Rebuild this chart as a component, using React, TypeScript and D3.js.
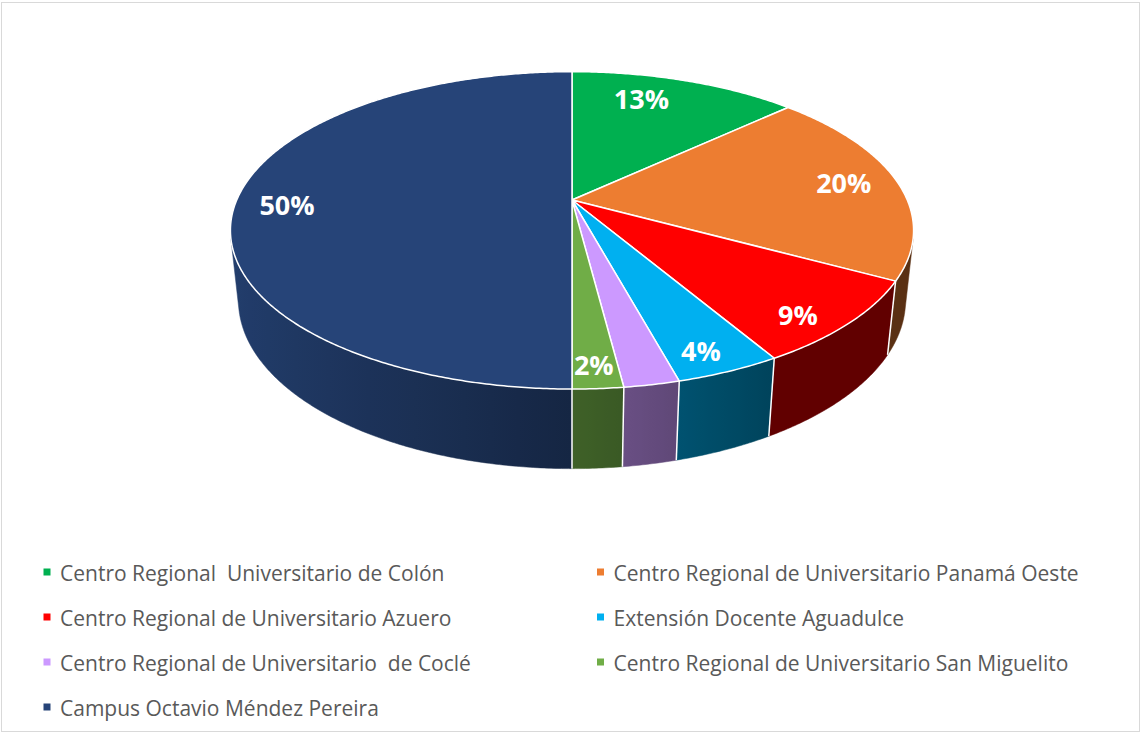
import React from 'react';
import * as d3 from 'd3';

const categories = [
  'Centro Regional  Universitario de Colón',
  'Centro Regional de Universitario Panamá Oeste',
  'Centro Regional de Universitario Azuero',
  'Extensión Docente Aguadulce',
  'Centro Regional de Universitario  de Coclé',
  'Centro Regional de Universitario San Miguelito',
  'Campus Octavio Méndez Pereira',
];
const values = [13, 20, 8.6, 4.2, 2.2, 2, 50];
const colors = ['#00B050', '#ED7D31', '#FF0000', '#00B0F0', '#CC99FF', '#70AD47', '#264478'];
const showLabel = [true, true, true, true, false, true, true];

const W = 1142;
const H = 734;
const CX = 572;
const CY = 200;
const FOCAL = 1560;
const DIST = 4.653;
const ELEV = Math.asin(0.456);
const THICK = 0.2366;
const LABEL_R = 0.85;
const LABEL_DY = 4;

const sE = Math.sin(ELEV);
const cE = Math.cos(ELEV);

function project(r: number, theta: number, y: number): [number, number] {
  const X = r * Math.sin(theta);
  const Z = -r * Math.cos(theta);
  const up = -Z * sE + y * cE;
  const depth = DIST - Z * cE - y * sE;
  return [CX + (FOCAL * X) / depth, CY - (FOCAL * up) / depth];
}

function shadeFactor(theta: number) {
  return Math.max(0.38, 0.56 - 0.36 * Math.sin(theta));
}

function shade(col: string, theta: number) {
  const c = d3.rgb(col);
  const f = shadeFactor(theta);
  return d3.rgb(c.r * f, c.g * f, c.b * f).formatHex();
}

function arcPoints(a0: number, a1: number, y: number) {
  const n = Math.max(2, Math.ceil(((a1 - a0) * 180) / Math.PI / 0.5));
  return d3.range(n + 1).map((i) => project(1, a0 + ((a1 - a0) * i) / n, y));
}

// 2D screen angle (clockwise from up) of the projected rim point, seen from the projected centre
function screenAngle(theta: number) {
  const [x, y] = project(1, theta, 0);
  const [ax, ay] = project(0, 0, 0);
  let a = Math.atan2(x - ax, -(y - ay));
  if (a < 0) a += Math.PI * 2;
  if (theta >= Math.PI * 2 - 1e-9 && a < Math.PI) a += Math.PI * 2;
  return a;
}

function thetaForScreenAngle(psi: number) {
  let lo = 0;
  let hi = Math.PI * 2;
  for (let k = 0; k < 60; k++) {
    const mid = (lo + hi) / 2;
    if (screenAngle(mid) < psi) lo = mid;
    else hi = mid;
  }
  return (lo + hi) / 2;
}

const line = d3.line<[number, number]>();

export default function App() {
  const arcs = d3
    .pie<number>()
    .sort(null)
    .startAngle(0)
    .endAngle(Math.PI * 2)(values);

  const kVis = Math.acos(-1 / (DIST * cE));
  const visLo = kVis;
  const visHi = Math.PI * 2 - kVis;
  const apex = project(0, 0, 0);

  const sides: any[] = [];
  const edges: any[] = [];
  arcs.forEach((a, i) => {
    const b0 = Math.max(a.startAngle, visLo);
    const b1 = Math.min(a.endAngle, visHi);
    if (b1 > b0) {
      const top = arcPoints(b0, b1, 0);
      const bot = arcPoints(b0, b1, -THICK).reverse();
      const d = line([...top, ...bot]) + 'Z';
      const x0 = project(1, b0, 0)[0];
      const x1 = project(1, b1, 0)[0];
      const stops = d3.range(11).map((k) => {
        const t = b0 + ((b1 - b0) * k) / 10;
        const x = project(1, t, 0)[0];
        return { off: x1 === x0 ? 0 : (x - x0) / (x1 - x0), color: shade(colors[i], t) };
      });
      sides.push({ i, d, x0, x1, stops });
    }
    if (a.startAngle > visLo && a.startAngle < visHi) {
      const p = project(1, a.startAngle, 0);
      const q = project(1, a.startAngle, -THICK);
      edges.push({ key: `${i}`, p, q });
    }
  });

  const tops = arcs.map((a, i) => {
    const pts = [apex, ...arcPoints(a.startAngle, a.endAngle, 0)];
    return { i, d: line(pts) + 'Z' };
  });

  const labels = arcs.map((a, i) => {
    const psi = (screenAngle(a.startAngle) + screenAngle(a.endAngle)) / 2;
    const th = thetaForScreenAngle(psi);
    const rim = project(1, th, 0);
    return {
      i,
      x: apex[0] + LABEL_R * (rim[0] - apex[0]),
      y: apex[1] + LABEL_R * (rim[1] - apex[1]) + LABEL_DY,
      text: `${Math.round(values[i])}%`,
    };
  });

  const legendX = d3.scaleOrdinal<number, number>().domain([0, 1]).range([43.5, 597]);
  const legendY = d3.scaleLinear().domain([0, 1]).range([572, 617]);

  return (
    <svg
      width={W}
      height={H}
      style={{ position: 'absolute', left: 0, top: 0, display: 'block' }}
      fontFamily="'Open Sans', Lato, sans-serif"
    >
      <defs>
        {sides.map((s) => (
          <linearGradient
            key={s.i}
            id={`side-${s.i}`}
            gradientUnits="userSpaceOnUse"
            x1={s.x0}
            y1={0}
            x2={s.x1 === s.x0 ? s.x0 + 1 : s.x1}
            y2={0}
          >
            {s.stops.map((st: any, k: number) => (
              <stop key={k} offset={Math.max(0, Math.min(1, st.off))} stopColor={st.color} />
            ))}
          </linearGradient>
        ))}
      </defs>
      <rect x={1.5} y={2.5} width={1138} height={729} fill="#FFFFFF" stroke="#D9D9D9" strokeWidth={1} />
      <g>
        {sides.map((s) => (
          <path key={s.i} d={s.d} fill={`url(#side-${s.i})`} stroke={`url(#side-${s.i})`} strokeWidth={0.5} />
        ))}
        {edges.map((e) => (
          <line key={e.key} x1={e.p[0]} y1={e.p[1]} x2={e.q[0]} y2={e.q[1]} stroke="#FFFFFF" strokeWidth={1.5} />
        ))}
        {tops.map((t) => (
          <path key={t.i} d={t.d} fill={colors[t.i]} stroke="#FFFFFF" strokeWidth={1.5} strokeLinejoin="round" />
        ))}
        {labels
          .filter((l) => showLabel[l.i])
          .map((l) => (
            <text
              key={l.i}
              x={l.x}
              y={l.y}
              textAnchor="middle"
              dominantBaseline="central"
              fill="#FFFFFF"
              fontWeight="bold"
              fontSize={27}
            >
              {l.text}
            </text>
          ))}
      </g>
      <g>
        {categories.map((name, i) => {
          const col = i % 2;
          const row = Math.floor(i / 2);
          const x = legendX(col);
          const y = legendY(row);
          return (
            <g key={i}>
              <rect x={x} y={y - 3.5} width={7} height={7} fill={colors[i]} />
              <text
                x={x + 16.5}
                y={y + 1}
                dominantBaseline="central"
                fill="#595959"
                fontSize={21}
                style={{ whiteSpace: 'pre' }}
              >
                {name}
              </text>
            </g>
          );
        })}
      </g>
    </svg>
  );
}
